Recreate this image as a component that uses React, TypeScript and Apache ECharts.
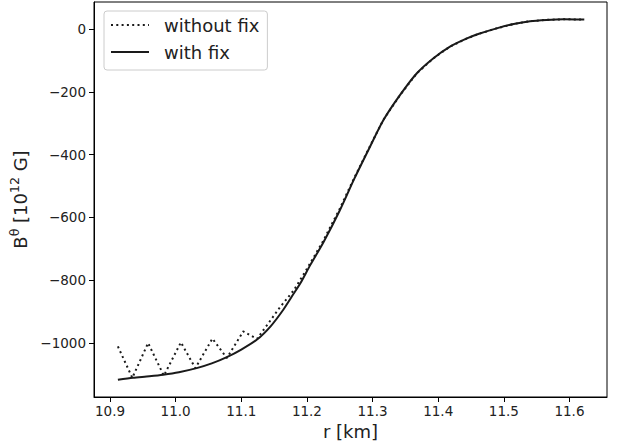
import React, { useEffect, useRef } from "react";
import * as echarts from "echarts";

// "with fix" curve
const rWithFix = [
  10.912, 10.935, 10.96, 10.981, 11.005, 11.032, 11.055, 11.078, 11.1, 11.124,
  11.145, 11.164, 11.177, 11.19, 11.205, 11.225, 11.25, 11.2726, 11.2963, 11.3166,
  11.342, 11.3675, 11.3928, 11.418, 11.4438, 11.461, 11.489, 11.515, 11.54, 11.565,
  11.591, 11.6226,
];
const bWithFix = [
  -1117, -1111, -1106, -1101, -1093, -1080, -1065, -1045, -1021, -989,
  -946, -894, -852, -810, -752, -680, -578, -475, -374, -290,
  -210, -141, -93, -56, -30, -16, 2, 16, 25, 29,
  31, 30,
];

// "without fix" curve
const rWithoutFix = [
  10.912, 10.934, 10.958, 10.982, 11.008, 11.03, 11.056, 11.078, 11.103, 11.124,
  11.159, 11.18, 11.2, 11.225, 11.25, 11.2726, 11.2963, 11.3166, 11.342, 11.3675,
  11.3928, 11.418, 11.4438, 11.461, 11.489, 11.515, 11.54, 11.565, 11.591, 11.6226,
];
const bWithoutFix = [
  -1011, -1111, -1000, -1104, -998, -1080, -986, -1048, -963, -987,
  -886, -832, -764, -674, -572, -472, -372, -289, -210, -141,
  -93, -56, -30, -16, 2, 16, 25, 29, 31, 30,
];

const xTicks = [10.9, 11.0, 11.1, 11.2, 11.3, 11.4, 11.5, 11.6];
const yTicks = [-1000, -800, -600, -400, -200, 0];

const FONT = "DejaVu Sans";
const TEXT = "#222";

export default function App() {
  const ref = useRef<HTMLDivElement>(null);
  useEffect(() => {
    if (!ref.current) return;
    const chart = echarts.init(ref.current, null, { renderer: "svg" });
    chart.setOption({
      animation: false,
      textStyle: { fontFamily: FONT },
      grid: {
        left: 94,
        right: 18,
        top: 2,
        bottom: 51,
        show: true,
        borderColor: "#000",
        borderWidth: 1,
      },
      legend: {
        orient: "vertical",
        left: 104,
        top: 11,
        padding: [4, 8, 8, 6],
        itemGap: 7,
        itemWidth: 38,
        itemHeight: 14,
        borderColor: "#cccccc",
        borderWidth: 1,
        borderRadius: 3,
        backgroundColor: "rgba(255,255,255,0.8)",
        itemStyle: { opacity: 0 },
        textStyle: {
          fontFamily: FONT,
          fontSize: 18,
          color: TEXT,
          lineHeight: 20,
          padding: [0, 0, 0, 10],
        },
        data: ["without fix", "with fix"],
      },
      xAxis: {
        type: "value",
        min: 10.8756,
        max: 11.6572,
        name: "r [km]",
        nameLocation: "middle",
        nameGap: 22,
        nameTextStyle: { fontFamily: FONT, fontSize: 18, color: TEXT },
        axisLine: { show: true, onZero: false, lineStyle: { color: "#000", width: 1 } },
        axisTick: {
          show: true,
          inside: false,
          length: 5,
          lineStyle: { color: "#000" },
          customValues: xTicks,
        },
        axisLabel: {
          margin: 7,
          fontFamily: FONT,
          fontSize: 13.5,
          color: TEXT,
          customValues: xTicks,
          formatter: (v: number) => v.toFixed(1),
        },
        splitLine: { show: false },
      },
      yAxis: {
        type: "value",
        min: -1172,
        max: 86,
        name: "{n|B}{s|θ}{n| [10}{s|12}{n| G]}",
        nameLocation: "middle",
        nameRotate: 90,
        nameGap: 46,
        nameTextStyle: {
          fontFamily: FONT,
          fontSize: 18,
          color: TEXT,
          rich: {
            n: { fontFamily: FONT, fontSize: 18, color: TEXT, lineHeight: 24 },
            s: {
              fontFamily: FONT,
              fontSize: 12.5,
              color: TEXT,
              lineHeight: 14,
              verticalAlign: "top",
            },
          },
        },
        axisLine: { show: true, onZero: false, lineStyle: { color: "#000", width: 1 } },
        axisTick: {
          show: true,
          inside: false,
          length: 5,
          lineStyle: { color: "#000" },
          customValues: yTicks,
        },
        axisLabel: {
          margin: 8,
          fontFamily: FONT,
          fontSize: 13.5,
          color: TEXT,
          customValues: yTicks,
          formatter: (v: number) => (v < 0 ? "\u2212" + Math.abs(v) : String(v)),
        },
        splitLine: { show: false },
      },
      series: [
        {
          name: "without fix",
          type: "line",
          symbol: "none",
          symbolSize: 0,
          smooth: false,
          data: rWithoutFix.map((r, i) => [r, bWithoutFix[i]]),
          lineStyle: { color: "#1a1a1a", width: 2, type: [2, 3.3], cap: "butt" },
          itemStyle: { color: "#1a1a1a" },
          z: 3,
        },
        {
          name: "with fix",
          type: "line",
          symbol: "none",
          symbolSize: 0,
          smooth: 0.25,
          data: rWithFix.map((r, i) => [r, bWithFix[i]]),
          lineStyle: { color: "#1a1a1a", width: 2 },
          itemStyle: { color: "#1a1a1a" },
          z: 2,
        },
      ],
    });
    return () => chart.dispose();
  }, []);
  return (
    <div
      ref={ref}
      style={{ position: "absolute", left: 0, top: 0, width: 625, height: 448 }}
    />
  );
}
